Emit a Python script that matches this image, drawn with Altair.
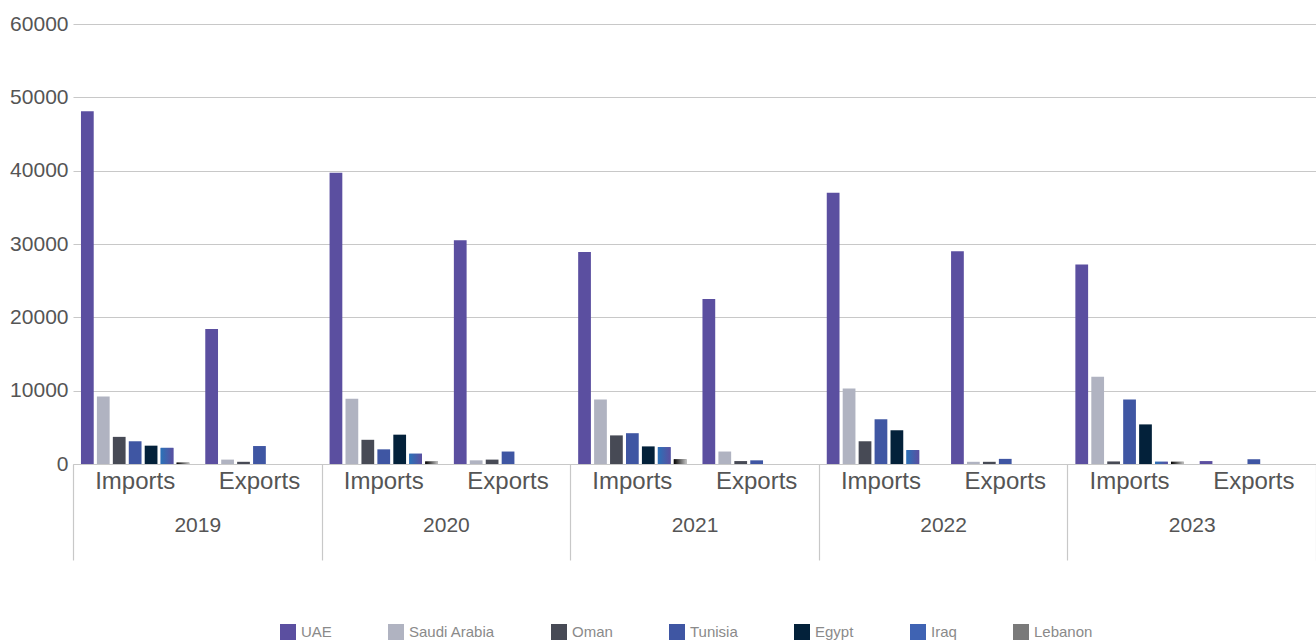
import altair as alt
import pandas as pd

years = ["2019", "2020", "2021", "2022", "2023"]
flows = ["Imports", "Exports"]
countries = ["UAE", "Saudi Arabia", "Oman", "Tunisia", "Egypt", "Iraq", "Lebanon"]
colors = ["#5b4fa0", "#b0b3c1", "#474a55", "#3f56a3", "#03213a", "#3f63b3", "#7a7a7a"]

imports = {
    "UAE": [48100, 39700, 28900, 37000, 27200],
    "Saudi Arabia": [9200, 8900, 8800, 10300, 11900],
    "Oman": [3700, 3300, 3900, 3100, 350],
    "Tunisia": [3100, 2000, 4200, 6100, 8800],
    "Egypt": [2500, 4000, 2400, 4600, 5400],
    "Iraq": [2200, 1400, 2300, 1900, 300],
    "Lebanon": [200, 350, 650, 0, 300],
}
exports = {
    "UAE": [18400, 30500, 22500, 29000, 400],
    "Saudi Arabia": [600, 500, 1700, 300, 0],
    "Oman": [300, 600, 400, 300, 0],
    "Tunisia": [2450, 1700, 500, 700, 650],
    "Egypt": [0, 0, 0, 0, 0],
    "Iraq": [0, 0, 0, 0, 0],
    "Lebanon": [0, 0, 0, 0, 0],
}

rows = []
for i, y in enumerate(years):
    for f, src in (("Imports", imports), ("Exports", exports)):
        for c in countries:
            rows.append({"year": y, "flow": f, "grp": f"{y} {f}", "country": c, "value": src[c][i]})
df = pd.DataFrame(rows)
grp_order = [f"{y} {f}" for y in years for f in flows]

FONT = "Liberation Sans"
TXT = "#555555"

x_main = alt.X(
    "grp:N", sort=grp_order, title=None,
    scale=alt.Scale(paddingInner=0, paddingOuter=0),
    axis=alt.Axis(labelExpr="split(datum.label, ' ')[1]", ticks=False, domainColor="#c8c8c8",
                  labelFontSize=24, labelColor=TXT, labelPadding=5, labelAngle=0,
                  labelFont=FONT, grid=False),
)
xoff = alt.XOffset("country:N", sort=countries,
                   scale=alt.Scale(domain=countries, paddingInner=0.2, paddingOuter=0.5))
y_enc = alt.Y(
    "value:Q", title=None,
    scale=alt.Scale(domain=[0, 60000], nice=False),
    axis=alt.Axis(values=[0, 10000, 20000, 30000, 40000, 50000, 60000], format="d",
                  labelFontSize=21, labelColor=TXT, labelFont=FONT, labelPadding=5,
                  domain=False, ticks=False, gridColor="#c8c8c8", gridWidth=1.2),
)

main = alt.Chart(df).mark_bar().encode(
    x=x_main, xOffset=xoff, y=y_enc,
    color=alt.Color("country:N", sort=countries,
                    scale=alt.Scale(domain=countries, range=colors),
                    legend=alt.Legend(title=None, orient="none", direction="horizontal",
                                      legendX=207, legendY=600, symbolType="square",
                                      symbolSize=256, symbolStrokeWidth=0, labelFontSize=15,
                                      labelColor="#8a8a8a", labelFont=FONT,
                                      columnPadding=56, labelOffset=5)),
)

iraq_grad = alt.Gradient(gradient="linear", x1=0, x2=1, y1=0, y2=0,
                         stops=[alt.GradientStop(color="#2a72b8", offset=0),
                                alt.GradientStop(color="#5b4fa0", offset=1)])
leb_grad = alt.Gradient(gradient="linear", x1=0, x2=1, y1=0, y2=0,
                        stops=[alt.GradientStop(color="#000000", offset=0),
                               alt.GradientStop(color="#c4c4c4", offset=1)])

iraq = alt.Chart(df).transform_filter(alt.datum.country == "Iraq").mark_bar(color=iraq_grad).encode(
    x=x_main, xOffset=xoff, y=y_enc)
leb = alt.Chart(df).transform_filter(alt.datum.country == "Lebanon").mark_bar(color=leb_grad).encode(
    x=x_main, xOffset=xoff, y=y_enc)

bars = alt.layer(main, iraq, leb)

year_layer = alt.Chart(pd.DataFrame({"year": years})).mark_point(opacity=0).encode(
    x=alt.X("year:N", sort=years, title=None,
            scale=alt.Scale(paddingInner=0, paddingOuter=0),
            axis=alt.Axis(orient="bottom", domain=False, tickBand="extent", tickSize=96,
                          tickColor="#c8c8c8", tickWidth=1.2, labelFontSize=21,
                          labelColor=TXT, labelFont=FONT, labelPadding=-46,
                          labelAngle=0, grid=False)),
    y=alt.value(0),
)

chart = alt.layer(bars, year_layer).resolve_scale(x="independent").properties(
    width=1243, height=440,
    autosize=alt.AutoSizeParams(type="none"),
    padding={"left": 73, "top": 24, "right": 0, "bottom": 180},
    background="white",
).configure_view(stroke=None)

chart.save("out.html", embed_options={"renderer": "svg", "actions": False})
